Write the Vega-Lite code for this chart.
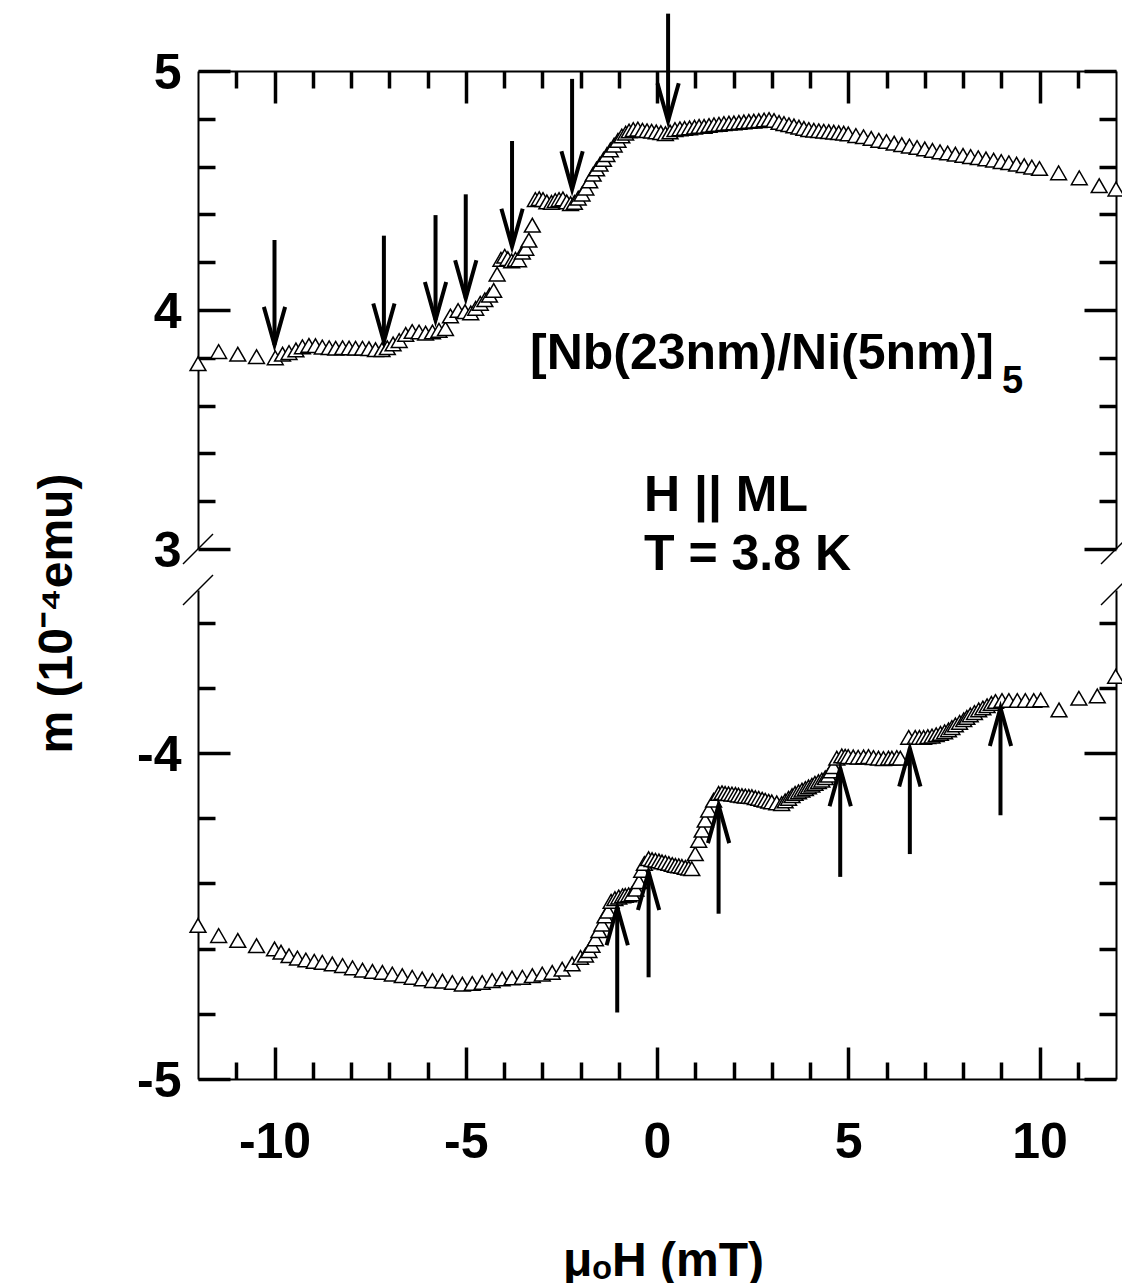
{
  "$schema": "https://vega.github.io/schema/vega-lite/v6.json",
  "background": "white",
  "padding": {"left": 32, "top": 11, "right": 0, "bottom": 0},
  "bounds": "flush",
  "spacing": 41,
  "config": {
    "font": "Liberation Sans",
    "view": {"stroke": null},
    "axis": {
      "grid": false,
      "domainColor": "black", "domainWidth": 2,
      "tickColor": "black", "tickWidth": 3.5,
      "labelFont": "Liberation Sans", "labelFontWeight": "bold", "labelFontSize": 50, "labelColor": "black", "labelFlush": false, "labelOverlap": false,
      "titleFont": "Liberation Sans", "titleFontWeight": "bold", "titleFontSize": 48, "titleColor": "black"
    }
  },
  "datasets": {
    "top": [
      {"H": -12.0, "m": 3.775}, {"H": -11.46, "m": 3.826}, {"H": -10.96, "m": 3.815}, {"H": -10.47, "m": 3.805}, {"H": -9.98, "m": 3.8},
      {"H": -9.79, "m": 3.815}, {"H": -9.62, "m": 3.822}, {"H": -9.44, "m": 3.833}, {"H": -9.27, "m": 3.846}, {"H": -9.1, "m": 3.852},
      {"H": -8.93, "m": 3.851}, {"H": -8.75, "m": 3.845}, {"H": -8.57, "m": 3.842}, {"H": -8.4, "m": 3.84}, {"H": -8.22, "m": 3.842},
      {"H": -8.05, "m": 3.841}, {"H": -7.88, "m": 3.84}, {"H": -7.7, "m": 3.84}, {"H": -7.53, "m": 3.838}, {"H": -7.36, "m": 3.834},
      {"H": -7.19, "m": 3.834}, {"H": -7.05, "m": 3.842}, {"H": -6.9, "m": 3.858}, {"H": -6.74, "m": 3.872}, {"H": -6.57, "m": 3.898},
      {"H": -6.4, "m": 3.91}, {"H": -6.22, "m": 3.908}, {"H": -6.05, "m": 3.903}, {"H": -5.87, "m": 3.908}, {"H": -5.7, "m": 3.915},
      {"H": -5.53, "m": 3.922}, {"H": -5.4, "m": 3.975}, {"H": -5.2, "m": 3.998}, {"H": -5.02, "m": 3.993}, {"H": -4.87, "m": 3.988},
      {"H": -4.74, "m": 4.007}, {"H": -4.62, "m": 4.028}, {"H": -4.5, "m": 4.043}, {"H": -4.38, "m": 4.062}, {"H": -4.27, "m": 4.082},
      {"H": -4.18, "m": 4.15}, {"H": -4.08, "m": 4.212}, {"H": -3.98, "m": 4.225}, {"H": -3.9, "m": 4.215}, {"H": -3.8, "m": 4.205},
      {"H": -3.7, "m": 4.212}, {"H": -3.62, "m": 4.21}, {"H": -3.52, "m": 4.242}, {"H": -3.43, "m": 4.258}, {"H": -3.35, "m": 4.292},
      {"H": -3.26, "m": 4.355}, {"H": -3.18, "m": 4.462}, {"H": -3.08, "m": 4.466}, {"H": -2.98, "m": 4.462}, {"H": -2.88, "m": 4.452},
      {"H": -2.76, "m": 4.45}, {"H": -2.66, "m": 4.458}, {"H": -2.56, "m": 4.462}, {"H": -2.46, "m": 4.465}, {"H": -2.36, "m": 4.452},
      {"H": -2.26, "m": 4.445}, {"H": -2.16, "m": 4.45}, {"H": -2.06, "m": 4.468}, {"H": -1.96, "m": 4.485}, {"H": -1.86, "m": 4.51},
      {"H": -1.76, "m": 4.54}, {"H": -1.67, "m": 4.568}, {"H": -1.58, "m": 4.59}, {"H": -1.49, "m": 4.61}, {"H": -1.4, "m": 4.63},
      {"H": -1.31, "m": 4.65}, {"H": -1.22, "m": 4.67}, {"H": -1.12, "m": 4.69}, {"H": -1.02, "m": 4.71}, {"H": -0.92, "m": 4.728},
      {"H": -0.82, "m": 4.74}, {"H": -0.73, "m": 4.749}, {"H": -0.62, "m": 4.755}, {"H": -0.5, "m": 4.757}, {"H": -0.38, "m": 4.752},
      {"H": -0.26, "m": 4.75}, {"H": -0.14, "m": 4.748}, {"H": -0.02, "m": 4.745}, {"H": 0.1, "m": 4.742}, {"H": 0.22, "m": 4.738},
      {"H": 0.34, "m": 4.745}, {"H": 0.47, "m": 4.755}, {"H": 0.6, "m": 4.758}, {"H": 0.72, "m": 4.76}, {"H": 0.85, "m": 4.762},
      {"H": 0.98, "m": 4.765}, {"H": 1.1, "m": 4.768}, {"H": 1.23, "m": 4.768}, {"H": 1.36, "m": 4.772}, {"H": 1.49, "m": 4.775},
      {"H": 1.62, "m": 4.777}, {"H": 1.75, "m": 4.78}, {"H": 1.88, "m": 4.782}, {"H": 2.01, "m": 4.783}, {"H": 2.14, "m": 4.785},
      {"H": 2.27, "m": 4.787}, {"H": 2.4, "m": 4.789}, {"H": 2.53, "m": 4.79}, {"H": 2.66, "m": 4.792}, {"H": 2.8, "m": 4.795},
      {"H": 2.93, "m": 4.797}, {"H": 3.06, "m": 4.793}, {"H": 3.19, "m": 4.785}, {"H": 3.32, "m": 4.78}, {"H": 3.45, "m": 4.775},
      {"H": 3.58, "m": 4.77}, {"H": 3.71, "m": 4.765}, {"H": 3.84, "m": 4.76}, {"H": 3.97, "m": 4.755}, {"H": 4.1, "m": 4.752},
      {"H": 4.23, "m": 4.75}, {"H": 4.36, "m": 4.748}, {"H": 4.49, "m": 4.746}, {"H": 4.62, "m": 4.744}, {"H": 4.75, "m": 4.742},
      {"H": 4.88, "m": 4.74}, {"H": 5.0, "m": 4.737}, {"H": 5.2, "m": 4.73}, {"H": 5.4, "m": 4.725}, {"H": 5.6, "m": 4.718},
      {"H": 5.8, "m": 4.71}, {"H": 6.0, "m": 4.705}, {"H": 6.2, "m": 4.698}, {"H": 6.4, "m": 4.692}, {"H": 6.6, "m": 4.686},
      {"H": 6.8, "m": 4.68}, {"H": 7.0, "m": 4.674}, {"H": 7.2, "m": 4.668}, {"H": 7.4, "m": 4.662}, {"H": 7.6, "m": 4.657},
      {"H": 7.8, "m": 4.652}, {"H": 8.0, "m": 4.647}, {"H": 8.2, "m": 4.642}, {"H": 8.4, "m": 4.637}, {"H": 8.6, "m": 4.632},
      {"H": 8.8, "m": 4.627}, {"H": 9.0, "m": 4.621}, {"H": 9.2, "m": 4.616}, {"H": 9.4, "m": 4.61}, {"H": 9.6, "m": 4.604},
      {"H": 9.8, "m": 4.598}, {"H": 10.0, "m": 4.592}, {"H": 10.5, "m": 4.574}, {"H": 11.04, "m": 4.553}, {"H": 11.56, "m": 4.52},
      {"H": 12.0, "m": 4.506}
    ],
    "bottom": [
      {"H": -12.0, "m": -4.529}, {"H": -11.46, "m": -4.56}, {"H": -10.96, "m": -4.575}, {"H": -10.47, "m": -4.591}, {"H": -10.0, "m": -4.601},
      {"H": -9.83, "m": -4.611}, {"H": -9.62, "m": -4.622}, {"H": -9.4, "m": -4.629}, {"H": -9.18, "m": -4.635}, {"H": -8.96, "m": -4.639},
      {"H": -8.75, "m": -4.642}, {"H": -8.49, "m": -4.647}, {"H": -8.22, "m": -4.652}, {"H": -7.96, "m": -4.659}, {"H": -7.7, "m": -4.666},
      {"H": -7.44, "m": -4.67}, {"H": -7.18, "m": -4.673}, {"H": -6.92, "m": -4.678}, {"H": -6.66, "m": -4.683}, {"H": -6.4, "m": -4.688},
      {"H": -6.14, "m": -4.693}, {"H": -5.87, "m": -4.698}, {"H": -5.61, "m": -4.7}, {"H": -5.35, "m": -4.704}, {"H": -5.09, "m": -4.709},
      {"H": -4.83, "m": -4.707}, {"H": -4.57, "m": -4.704}, {"H": -4.31, "m": -4.698}, {"H": -4.05, "m": -4.693}, {"H": -3.79, "m": -4.69},
      {"H": -3.52, "m": -4.688}, {"H": -3.26, "m": -4.683}, {"H": -3.0, "m": -4.678}, {"H": -2.74, "m": -4.673}, {"H": -2.48, "m": -4.663},
      {"H": -2.22, "m": -4.647}, {"H": -2.0, "m": -4.627}, {"H": -1.87, "m": -4.62}, {"H": -1.78, "m": -4.606}, {"H": -1.7, "m": -4.59},
      {"H": -1.61, "m": -4.57}, {"H": -1.52, "m": -4.545}, {"H": -1.44, "m": -4.525}, {"H": -1.36, "m": -4.5}, {"H": -1.28, "m": -4.485},
      {"H": -1.2, "m": -4.455}, {"H": -1.1, "m": -4.447}, {"H": -1.0, "m": -4.442}, {"H": -0.9, "m": -4.438}, {"H": -0.83, "m": -4.437},
      {"H": -0.74, "m": -4.435}, {"H": -0.65, "m": -4.432}, {"H": -0.55, "m": -4.418}, {"H": -0.47, "m": -4.395}, {"H": -0.4, "m": -4.36},
      {"H": -0.33, "m": -4.339}, {"H": -0.22, "m": -4.324}, {"H": -0.13, "m": -4.327}, {"H": -0.04, "m": -4.329}, {"H": 0.05, "m": -4.331},
      {"H": 0.13, "m": -4.334}, {"H": 0.22, "m": -4.336}, {"H": 0.31, "m": -4.339}, {"H": 0.4, "m": -4.342}, {"H": 0.48, "m": -4.345},
      {"H": 0.57, "m": -4.346}, {"H": 0.65, "m": -4.348}, {"H": 0.74, "m": -4.351}, {"H": 0.83, "m": -4.353}, {"H": 0.91, "m": -4.355},
      {"H": 1.0, "m": -4.309}, {"H": 1.09, "m": -4.268}, {"H": 1.18, "m": -4.237}, {"H": 1.26, "m": -4.206}, {"H": 1.35, "m": -4.175},
      {"H": 1.48, "m": -4.145}, {"H": 1.61, "m": -4.124}, {"H": 1.7, "m": -4.122}, {"H": 1.78, "m": -4.124}, {"H": 1.87, "m": -4.125},
      {"H": 1.96, "m": -4.126}, {"H": 2.05, "m": -4.127}, {"H": 2.13, "m": -4.129}, {"H": 2.22, "m": -4.131}, {"H": 2.31, "m": -4.132},
      {"H": 2.4, "m": -4.133}, {"H": 2.48, "m": -4.134}, {"H": 2.57, "m": -4.137}, {"H": 2.66, "m": -4.139}, {"H": 2.75, "m": -4.142},
      {"H": 2.83, "m": -4.145}, {"H": 2.92, "m": -4.148}, {"H": 3.0, "m": -4.15}, {"H": 3.13, "m": -4.153}, {"H": 3.26, "m": -4.155},
      {"H": 3.35, "m": -4.147}, {"H": 3.44, "m": -4.139}, {"H": 3.53, "m": -4.131}, {"H": 3.61, "m": -4.124}, {"H": 3.7, "m": -4.119},
      {"H": 3.79, "m": -4.114}, {"H": 3.88, "m": -4.109}, {"H": 3.96, "m": -4.104}, {"H": 4.05, "m": -4.099}, {"H": 4.13, "m": -4.093},
      {"H": 4.22, "m": -4.088}, {"H": 4.31, "m": -4.083}, {"H": 4.4, "m": -4.076}, {"H": 4.48, "m": -4.068}, {"H": 4.55, "m": -4.055},
      {"H": 4.61, "m": -4.042}, {"H": 4.7, "m": -4.016}, {"H": 4.83, "m": -4.009}, {"H": 4.92, "m": -4.01}, {"H": 5.0, "m": -4.011},
      {"H": 5.13, "m": -4.012}, {"H": 5.26, "m": -4.013}, {"H": 5.4, "m": -4.012}, {"H": 5.53, "m": -4.011}, {"H": 5.66, "m": -4.014},
      {"H": 5.79, "m": -4.016}, {"H": 5.92, "m": -4.017}, {"H": 6.05, "m": -4.016}, {"H": 6.14, "m": -4.016}, {"H": 6.27, "m": -4.014},
      {"H": 6.36, "m": -4.016}, {"H": 6.58, "m": -3.952}, {"H": 6.75, "m": -3.952}, {"H": 6.86, "m": -3.952}, {"H": 6.97, "m": -3.952},
      {"H": 7.08, "m": -3.95}, {"H": 7.19, "m": -3.948}, {"H": 7.3, "m": -3.944}, {"H": 7.41, "m": -3.94}, {"H": 7.52, "m": -3.935},
      {"H": 7.62, "m": -3.929}, {"H": 7.71, "m": -3.922}, {"H": 7.8, "m": -3.914}, {"H": 7.91, "m": -3.906}, {"H": 8.02, "m": -3.898},
      {"H": 8.1, "m": -3.891}, {"H": 8.19, "m": -3.883}, {"H": 8.3, "m": -3.876}, {"H": 8.41, "m": -3.868}, {"H": 8.52, "m": -3.862},
      {"H": 8.63, "m": -3.855}, {"H": 8.74, "m": -3.848}, {"H": 8.85, "m": -3.842}, {"H": 9.02, "m": -3.839}, {"H": 9.2, "m": -3.839},
      {"H": 9.42, "m": -3.839}, {"H": 9.63, "m": -3.839}, {"H": 9.85, "m": -3.839}, {"H": 10.03, "m": -3.837}, {"H": 10.51, "m": -3.868},
      {"H": 11.03, "m": -3.832}, {"H": 11.51, "m": -3.825}, {"H": 11.99, "m": -3.765}
    ],
    "arrowsTop": [
      {"H": -10.0, "m1": 4.293, "m2": 3.854}, {"H": -7.14, "m1": 4.311, "m2": 3.868}, {"H": -5.79, "m1": 4.397, "m2": 3.958},
      {"H": -5.0, "m1": 4.484, "m2": 4.049}, {"H": -3.79, "m1": 4.707, "m2": 4.265}, {"H": -2.22, "m1": 4.967, "m2": 4.505},
      {"H": 0.29, "m1": 5.24, "m2": 4.79}
    ],
    "arrowsBottom": [
      {"H": -1.04, "m1": -4.796, "m2": -4.473}, {"H": -0.22, "m1": -4.688, "m2": -4.365}, {"H": 1.61, "m1": -4.493, "m2": -4.16},
      {"H": 4.79, "m1": -4.38, "m2": -4.047}, {"H": 6.61, "m1": -4.31, "m2": -3.986}, {"H": 8.98, "m1": -4.191, "m2": -3.862}
    ],
    "breaksTop": [{"H": -12, "m": 3}, {"H": 12, "m": 3}],
    "breaksBottom": [{"H": -12, "m": -3.5}, {"H": 12, "m": -3.5}],
    "notes": [
      {"H": -3.32, "m": 3.814, "label": "[Nb(23nm)/Ni(5nm)]"},
      {"H": -0.34, "m": 3.22, "label": "H || ML"},
      {"H": -0.34, "m": 2.975, "label": "T = 3.8 K"}
    ],
    "subs": [{"H": 9.02, "m": 3.697, "label": "5"}]
  },
  "vconcat": [
    {
      "width": 918,
      "height": 478,
      "resolve": {"axis": {"x": "independent", "y": "independent"}},
      "layer": [
        {
          "data": {"name": "top"},
          "mark": {"type": "point", "shape": "triangle-up", "filled": true, "fill": "white", "stroke": "black", "strokeWidth": 1.5, "size": 250, "opacity": 1},
          "encoding": {
            "x": {"field": "H", "type": "quantitative", "scale": {"domain": [-12, 12], "nice": false, "zero": false},
                  "axis": {"orient": "top", "values": [-10, -5, 0, 5, 10], "tickSize": -32, "labels": false, "title": null}},
            "y": {"field": "m", "type": "quantitative", "scale": {"domain": [3, 5], "nice": false, "zero": false},
                  "axis": {"orient": "left", "values": [3, 4, 5], "tickSize": -32, "labelPadding": 49, "labelBaseline": "middle", "labelOffset": 2, "labelExpr": "'' + datum.value", "title": null}}
          }
        },
        {
          "data": {"name": "arrowsTop"},
          "mark": {"type": "rule", "strokeWidth": 4, "color": "black"},
          "encoding": {
            "x": {"field": "H", "type": "quantitative", "scale": {"domain": [-12, 12], "nice": false, "zero": false},
                  "axis": {"orient": "top", "values": [-11, -9, -8, -7, -6, -4, -3, -2, -1, 1, 2, 3, 4, 6, 7, 8, 9, 11], "tickSize": -17, "labels": false, "domain": false, "title": null}},
            "y": {"field": "m1", "type": "quantitative", "scale": {"domain": [3, 5], "nice": false, "zero": false},
                  "axis": {"orient": "left", "values": [3.2, 3.4, 3.6, 3.8, 4.2, 4.4, 4.6, 4.8], "tickSize": -17, "labels": false, "domain": false, "title": null}},
            "y2": {"field": "m2"}
          }
        },
        {
          "data": {"name": "arrowsTop"},
          "mark": {"type": "point", "shape": "M-0.28,-1L0,0L0.28,-1", "size": 5776, "filled": false, "stroke": "black", "strokeWidth": 4, "opacity": 1, "strokeJoin": "miter"},
          "encoding": {
            "x": {"field": "H", "type": "quantitative", "scale": {"domain": [-12, 12], "nice": false, "zero": false}, "axis": null},
            "y": {"field": "m2", "type": "quantitative", "scale": {"domain": [3, 5], "nice": false, "zero": false},
                  "axis": {"orient": "right", "values": [3, 4, 5], "tickSize": -32, "labels": false, "title": null}}
          }
        },
        {
          "data": {"name": "breaksTop"},
          "mark": {"type": "point", "shape": "M-1,1L1,-1", "size": 900, "filled": false, "stroke": "black", "strokeWidth": 1.5, "opacity": 1},
          "encoding": {
            "x": {"field": "H", "type": "quantitative", "scale": {"domain": [-12, 12], "nice": false, "zero": false}, "axis": null},
            "y": {"field": "m", "type": "quantitative", "scale": {"domain": [3, 5], "nice": false, "zero": false},
                  "axis": {"orient": "right", "values": [3.2, 3.4, 3.6, 3.8, 4.2, 4.4, 4.6, 4.8], "tickSize": -17, "labels": false, "domain": false, "title": null}}
          }
        },
        {
          "data": {"name": "notes"},
          "mark": {"type": "text", "align": "left", "baseline": "middle", "font": "Liberation Sans", "fontWeight": "bold", "fontSize": 50, "color": "black"},
          "encoding": {
            "x": {"field": "H", "type": "quantitative", "scale": {"domain": [-12, 12], "nice": false, "zero": false}, "axis": null},
            "y": {"field": "m", "type": "quantitative", "scale": {"domain": [3, 5], "nice": false, "zero": false}, "axis": null},
            "text": {"field": "label"}
          }
        },
        {
          "data": {"name": "subs"},
          "mark": {"type": "text", "align": "left", "baseline": "middle", "font": "Liberation Sans", "fontWeight": "bold", "fontSize": 38, "color": "black"},
          "encoding": {
            "x": {"field": "H", "type": "quantitative", "scale": {"domain": [-12, 12], "nice": false, "zero": false}, "axis": null},
            "y": {"field": "m", "type": "quantitative", "scale": {"domain": [3, 5], "nice": false, "zero": false}, "axis": null},
            "text": {"field": "label"}
          }
        }
      ]
    },
    {
      "width": 918,
      "height": 489,
      "resolve": {"axis": {"x": "independent", "y": "independent"}},
      "layer": [
        {
          "data": {"name": "bottom"},
          "mark": {"type": "point", "shape": "triangle-up", "filled": true, "fill": "white", "stroke": "black", "strokeWidth": 1.5, "size": 250, "opacity": 1},
          "encoding": {
            "x": {"field": "H", "type": "quantitative", "scale": {"domain": [-12, 12], "nice": false, "zero": false},
                  "axis": {"orient": "bottom", "values": [-10, -5, 0, 5, 10], "tickSize": -32, "labelPadding": 70, "labelExpr": "'' + datum.value", "title": "μₒH (mT)", "titleX": 465, "titleY": 196, "titleBaseline": "alphabetic", "titleAlign": "center"}},
            "y": {"field": "m", "type": "quantitative", "scale": {"domain": [-5, -3.5], "nice": false, "zero": false},
                  "axis": {"orient": "left", "values": [-5, -4], "tickSize": -32, "labelPadding": 49, "labelBaseline": "middle", "labelOffset": 2, "labelExpr": "'' + datum.value", "title": "m (10⁻⁴emu)", "titleX": -127, "titleY": 23, "titleBaseline": "alphabetic", "titleAlign": "center", "titleAngle": -90}}
          }
        },
        {
          "data": {"name": "arrowsBottom"},
          "mark": {"type": "rule", "strokeWidth": 4, "color": "black"},
          "encoding": {
            "x": {"field": "H", "type": "quantitative", "scale": {"domain": [-12, 12], "nice": false, "zero": false},
                  "axis": {"orient": "bottom", "values": [-11, -9, -8, -7, -6, -4, -3, -2, -1, 1, 2, 3, 4, 6, 7, 8, 9, 11], "tickSize": -17, "labels": false, "domain": false, "title": null}},
            "y": {"field": "m1", "type": "quantitative", "scale": {"domain": [-5, -3.5], "nice": false, "zero": false},
                  "axis": {"orient": "left", "values": [-4.8, -4.6, -4.4, -4.2, -3.8, -3.6], "tickSize": -17, "labels": false, "domain": false, "title": null}},
            "y2": {"field": "m2"}
          }
        },
        {
          "data": {"name": "arrowsBottom"},
          "mark": {"type": "point", "shape": "M-0.28,1L0,0L0.28,1", "size": 5776, "filled": false, "stroke": "black", "strokeWidth": 4, "opacity": 1, "strokeJoin": "miter"},
          "encoding": {
            "x": {"field": "H", "type": "quantitative", "scale": {"domain": [-12, 12], "nice": false, "zero": false}, "axis": null},
            "y": {"field": "m2", "type": "quantitative", "scale": {"domain": [-5, -3.5], "nice": false, "zero": false},
                  "axis": {"orient": "right", "values": [-5, -4], "tickSize": -32, "labels": false, "title": null}}
          }
        },
        {
          "data": {"name": "breaksBottom"},
          "mark": {"type": "point", "shape": "M-1,1L1,-1", "size": 900, "filled": false, "stroke": "black", "strokeWidth": 1.5, "opacity": 1},
          "encoding": {
            "x": {"field": "H", "type": "quantitative", "scale": {"domain": [-12, 12], "nice": false, "zero": false}, "axis": null},
            "y": {"field": "m", "type": "quantitative", "scale": {"domain": [-5, -3.5], "nice": false, "zero": false},
                  "axis": {"orient": "right", "values": [-4.8, -4.6, -4.4, -4.2, -3.8, -3.6], "tickSize": -17, "labels": false, "domain": false, "title": null}}
          }
        }
      ]
    }
  ]
}
